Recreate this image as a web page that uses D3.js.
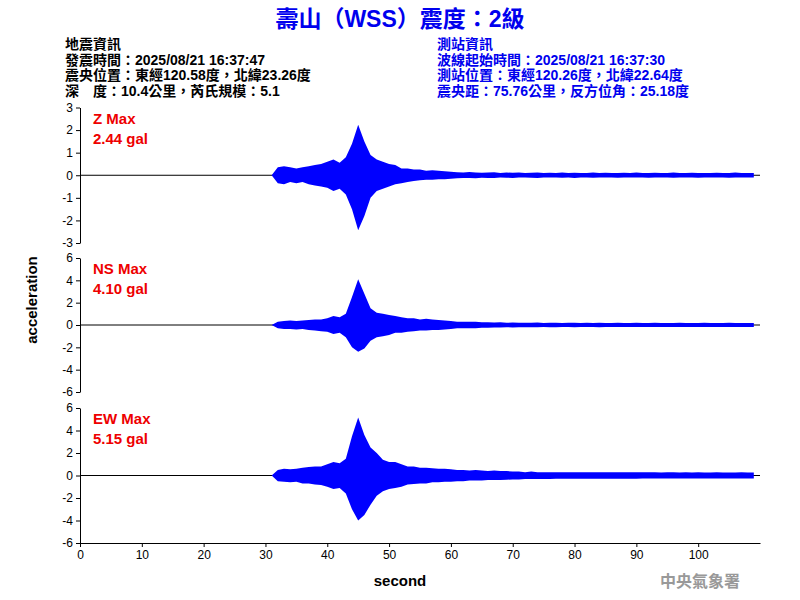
<!DOCTYPE html>
<html><head><meta charset="utf-8">
<script src="https://cdn.jsdelivr.net/npm/d3@7"></script>
<style>body{margin:0;background:#fff}text{font-family:Arial,"Liberation Sans","Noto Sans CJK TC",sans-serif}</style>
</head><body><div id="chart"></div>
<script>
// Seismogram envelope, peak per 1 s bin from t = 31 s to 109 s (gal)
const startSecond = 31;
const zUp = [0,.35,.4,.35,.3,.35,.4,.45,.5,.6,.7,.55,.8,1.4,2.24,1.5,.9,.7,.6,.5,.45,.3,.3,.25,.25,.2,.22,.2,.18,.15,
  .13,.12,.14,.12,.11,.12,.13,.1,.12,.11,.12,.1,.11,.12,.1,.11,.1,.12,.1,.11,.1,.1,.12,.1,.11,.1,.1,.11,.1,.12,
  .1,.1,.11,.1,.1,.12,.1,.1,.11,.1,.1,.1,.11,.1,.1,.12,.1,.1,.1];
const zDown = [0,-.35,-.4,-.3,-.35,-.3,-.4,-.45,-.5,-.55,-.7,-.6,-.85,-1.5,-2.44,-1.8,-1.0,-.7,-.6,-.5,-.4,-.35,-.3,-.25,-.22,-.2,-.2,-.18,-.18,-.15,
  -.13,-.12,-.12,-.13,-.11,-.12,-.12,-.1,-.11,-.12,-.1,-.1,-.11,-.12,-.1,-.1,-.1,-.11,-.1,-.12,-.1,-.1,-.11,-.1,-.1,-.1,-.11,-.1,-.1,-.1,
  -.1,-.11,-.1,-.1,-.1,-.11,-.1,-.1,-.1,-.11,-.1,-.1,-.1,-.1,-.11,-.1,-.1,-.1,-.1];
const nsUp = [0,.3,.35,.4,.35,.4,.45,.5,.5,.6,.8,.7,1.0,2.5,4.1,2.8,1.5,1.1,1.0,.9,.8,.7,.6,.6,.5,.55,.5,.45,.4,.35,
  .3,.3,.28,.3,.25,.25,.22,.25,.2,.22,.2,.2,.2,.22,.18,.2,.2,.18,.2,.2,.18,.2,.18,.2,.18,.18,.2,.18,.18,.2,
  .18,.18,.2,.18,.18,.18,.2,.18,.18,.18,.2,.18,.18,.18,.2,.18,.18,.18,.18];
const nsDown = [0,-.3,-.35,-.35,-.4,-.35,-.45,-.5,-.55,-.6,-.8,-.7,-1.1,-2.0,-2.4,-2.1,-1.4,-1.1,-1.0,-.9,-.7,-.7,-.6,-.55,-.5,-.5,-.45,-.45,-.4,-.35,
  -.3,-.3,-.28,-.28,-.25,-.25,-.22,-.22,-.2,-.22,-.2,-.2,-.2,-.2,-.18,-.2,-.2,-.18,-.18,-.2,-.18,-.18,-.18,-.2,-.18,-.18,-.18,-.18,-.18,-.18,
  -.18,-.18,-.18,-.18,-.18,-.18,-.18,-.18,-.18,-.18,-.18,-.18,-.18,-.18,-.18,-.18,-.18,-.18,-.18];
const ewUp = [0,.5,.6,.55,.6,.7,.75,.8,.8,1.0,1.2,1.1,1.5,3.5,5.15,3.6,2.5,2.0,1.4,1.2,1.2,1.0,.8,.8,.7,.7,.65,.6,.6,.55,
  .5,.5,.45,.5,.45,.4,.45,.4,.4,.35,.35,.3,.35,.3,.3,.3,.28,.3,.28,.3,.28,.28,.3,.28,.28,.28,.3,.28,.28,.28,
  .28,.28,.28,.26,.28,.28,.26,.28,.26,.28,.26,.26,.28,.26,.26,.26,.28,.26,.26];
const ewDown = [0,-.5,-.55,-.6,-.55,-.7,-.7,-.8,-.85,-1.0,-1.2,-1.1,-1.6,-3.0,-4.0,-3.5,-2.6,-1.8,-1.4,-1.2,-1.1,-1.0,-.8,-.75,-.7,-.7,-.6,-.6,-.55,-.55,
  -.5,-.5,-.45,-.45,-.45,-.4,-.4,-.4,-.38,-.35,-.35,-.3,-.32,-.3,-.3,-.3,-.28,-.28,-.28,-.28,-.28,-.28,-.28,-.28,-.28,-.28,-.28,-.28,-.28,-.28,
  -.26,-.26,-.26,-.26,-.26,-.26,-.26,-.26,-.26,-.26,-.26,-.26,-.26,-.26,-.26,-.26,-.26,-.26,-.26];

const channels = [
  {name: 'Z Max', peak: '2.44 gal', up: zUp, down: zDown, yMax: 3, ticks: [-3,-2,-1,0,1,2,3]},
  {name: 'NS Max', peak: '4.10 gal', up: nsUp, down: nsDown, yMax: 6, ticks: [-6,-4,-2,0,2,4,6]},
  {name: 'EW Max', peak: '5.15 gal', up: ewUp, down: ewDown, yMax: 6, ticks: [-6,-4,-2,0,2,4,6]}
];
const xTicks = [0,10,20,30,40,50,60,70,80,90,100];
const quakeInfo = ['地震資訊', '發震時間：2025/08/21 16:37:47', '震央位置：東經120.58度，北緯23.26度', '深　度：10.4公里，芮氏規模：5.1'];
const stationInfo = ['測站資訊', '波線起始時間：2025/08/21 16:37:30', '測站位置：東經120.26度，北緯22.64度', '震央距：75.76公里，反方位角：25.18度'];

const width = 800, height = 600;
const svg = d3.select('#chart').append('svg').attr('width', width).attr('height', height);

svg.append('text').attr('x', 400).attr('y', 27).attr('text-anchor', 'middle')
  .style('font-size', '23px').style('font-weight', 'bold').attr('fill', '#0000ee')
  .text('壽山（WSS）震度：2級');

quakeInfo.forEach((t, i) => svg.append('text').attr('x', 65).attr('y', 49 + i * 15.5)
  .style('font-size', '14px').style('font-weight', 'bold').attr('fill', '#000').text(t));
stationInfo.forEach((t, i) => svg.append('text').attr('x', 437).attr('y', 49 + i * 15.5)
  .style('font-size', '14px').style('font-weight', 'bold').attr('fill', '#0000ee').text(t));

const x = d3.scaleLinear().domain([0, 110]).range([80, 760]);
const panels = [[107.5, 243], [258, 392], [408, 543]];
const fmt = d => String(d);

channels.forEach((c, k) => {
  const y = d3.scaleLinear().domain([-c.yMax, c.yMax]).range([panels[k][1], panels[k][0]]);
  svg.append('g').attr('transform', 'translate(80,0)')
    .call(d3.axisLeft(y).tickValues(c.ticks).tickFormat(fmt).tickSize(4).tickSizeOuter(0))
    .call(g => g.selectAll('text').style('font-size', '12px').attr('fill', '#000'))
    .call(g => g.selectAll('line,path').attr('stroke', '#000'));
  svg.append('line').attr('x1', x(0)).attr('x2', x(110)).attr('y1', y(0)).attr('y2', y(0))
    .attr('stroke', '#000').attr('stroke-width', 1);
  const bins = c.up.map((u, i) => ({t: startSecond + i, u, d: c.down[i]}));
  svg.append('path').datum(bins)
    .attr('d', d3.area().x(d => x(d.t)).y0(d => y(d.d)).y1(d => y(d.u)))
    .attr('fill', '#0000ff');
  svg.append('text').attr('x', 93).attr('y', panels[k][0] + 16).attr('fill', '#ee0000')
    .style('font-size', '15px').style('font-weight', 'bold').text(c.name);
  svg.append('text').attr('x', 93).attr('y', panels[k][0] + 36).attr('fill', '#ee0000')
    .style('font-size', '15px').style('font-weight', 'bold').text(c.peak);
});

svg.append('g').attr('transform', 'translate(0,543)')
  .call(d3.axisBottom(x).tickValues(xTicks).tickSize(4).tickSizeOuter(0))
  .call(g => g.selectAll('text').style('font-size', '12px').attr('fill', '#000'))
  .call(g => g.selectAll('line,path').attr('stroke', '#000'));

svg.append('text').attr('x', 400).attr('y', 586).attr('text-anchor', 'middle')
  .style('font-size', '15px').style('font-weight', 'bold').text('second');
svg.append('text').attr('transform', 'rotate(-90)').attr('x', -300).attr('y', 37)
  .attr('text-anchor', 'middle').style('font-size', '15px').style('font-weight', 'bold').text('acceleration');
svg.append('text').attr('x', 700).attr('y', 587).attr('text-anchor', 'middle').attr('fill', '#999')
  .style('font-size', '16px').style('font-weight', 'bold').text('中央氣象署');
</script></body></html>
